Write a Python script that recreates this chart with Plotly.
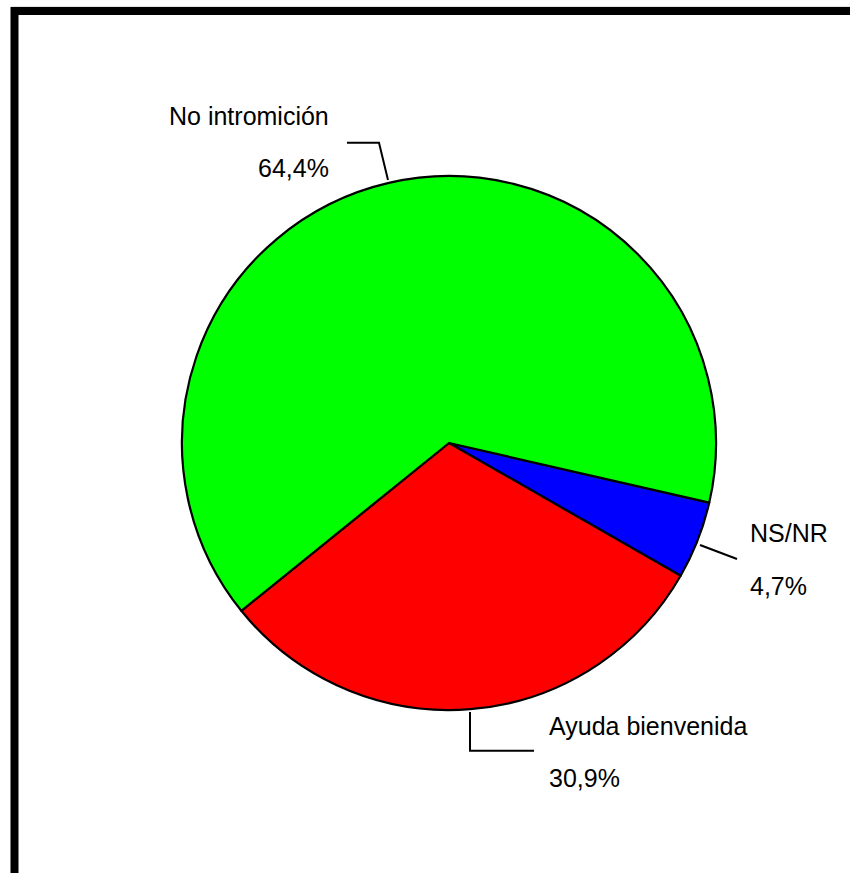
import plotly.graph_objects as go

categories = ["NS/NR", "Ayuda bienvenida", "No intromición"]
values = [4.7, 30.9, 64.4]
colors = ["#0000FF", "#FF0000", "#00FF00"]

W, H = 850, 873

def px(x):
    return x / W

def py(y):
    return 1 - y / H

cx, cy, r = 449, 443, 267

fig = go.Figure()
fig.add_trace(go.Pie(
    labels=categories,
    values=values,
    sort=False,
    direction="clockwise",
    rotation=102.9,
    marker=dict(colors=colors, line=dict(color="black", width=2.2)),
    textinfo="none",
    hoverinfo="label+percent",
    showlegend=False,
    domain=dict(x=[px(cx - r), px(cx + r)], y=[py(cy + r), py(cy - r)]),
))

def pct(v):
    return f"{v:.1f}".replace(".", ",") + "%"

font = dict(family="Arial, Liberation Sans", size=25, color="black")

# label placements (pixel coords): (x, y_name, y_pct, anchor)
label_pos = {
    "No intromición": (331, 116.5, 168.5, "right"),
    "NS/NR": (748, 532.5, 585.5, "left"),
    "Ayuda bienvenida": (547, 726, 777.5, "left"),
}
annotations = []
for cat, v in zip(categories, values):
    x, yn, yp, anc = label_pos[cat]
    annotations.append(dict(x=px(x), y=py(yn), xref="paper", yref="paper", text=cat,
                            showarrow=False, xanchor=anc, yanchor="middle", font=font))
    annotations.append(dict(x=px(x), y=py(yp), xref="paper", yref="paper", text=pct(v),
                            showarrow=False, xanchor=anc, yanchor="middle", font=font))

leaders = [
    [(347, 142.7), (379, 142.7), (388, 180)],
    [(700, 545), (737, 559)],
    [(470, 712), (470, 750.7), (534, 750.7)],
]
shapes = []
for pts in leaders:
    path = "M " + " L ".join(f"{px(x)},{py(y)}" for x, y in pts)
    shapes.append(dict(type="path", path=path, xref="paper", yref="paper",
                       line=dict(color="black", width=2)))

# frame (top and left thick borders)
shapes.append(dict(type="line", xref="paper", yref="paper", x0=px(11), x1=1, y0=py(7), y1=py(7),
                   line=dict(color="#c8c8c8", width=1)))
shapes.append(dict(type="line", xref="paper", yref="paper", x0=px(11), x1=1, y0=py(11), y1=py(11),
                   line=dict(color="black", width=8)))
shapes.append(dict(type="line", xref="paper", yref="paper", x0=px(14.5), x1=px(14.5), y0=py(7), y1=0,
                   line=dict(color="black", width=8)))

fig.update_layout(
    width=W, height=H,
    margin=dict(l=0, r=0, t=0, b=0),
    paper_bgcolor="white",
    plot_bgcolor="white",
    annotations=annotations,
    shapes=shapes,
)

fig.write_html("out.html", config={"displayModeBar": False},
               post_script="document.body.style.margin='0';document.body.style.overflow='hidden';")
